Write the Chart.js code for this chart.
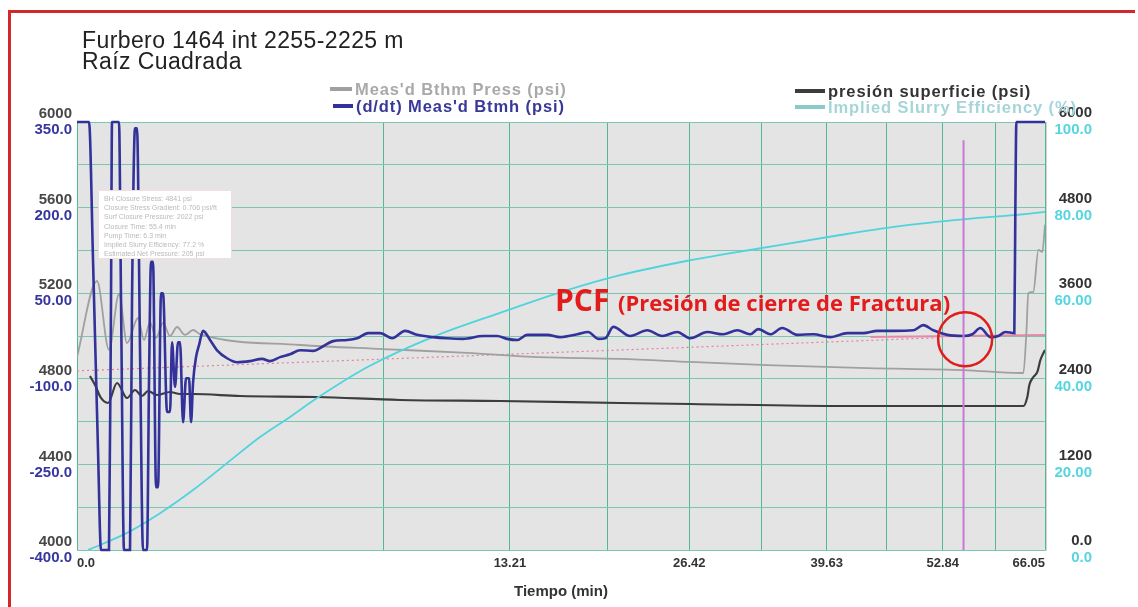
<!DOCTYPE html>
<html>
<head>
<meta charset="utf-8">
<script src="https://cdn.jsdelivr.net/npm/chart.js@4.4.1/dist/chart.umd.min.js"></script>
<style>
  html, body { margin: 0; padding: 0; background: #ffffff; }
  #wrap { position: relative; width: 1138px; height: 607px; overflow: hidden;
          font-family: "Liberation Sans", Arial, sans-serif; }
  #chart { position: absolute; left: 0; top: 0; }
  .frame { position: absolute; left: 8px; top: 10px; width: 1124px; height: 640px;
           border-top: 3px solid #d3282b; border-left: 3px solid #d3282b; }
  .title { position: absolute; left: 82px; top: 30px; font-size: 23px; line-height: 21px;
           letter-spacing: 0.4px; color: #222; }
  .leg { position: absolute; font-weight: bold; font-size: 16.5px; line-height: 16px;
         letter-spacing: 0.9px; white-space: nowrap; }
  .leg i { position: absolute; height: 4px; top: 6px; left: 0; }
  .info { position: absolute; left: 98px; top: 190px; width: 127px; height: 64px; background: #fff;
          border: 1px solid #f1dede; padding: 3px 0 0 5px; font-size: 7px; line-height: 9.2px;
          color: #bababa; white-space: nowrap; overflow: hidden; }
  .note { position: absolute; color: #e31b1b; font-family: "Open Sans", "Liberation Sans", sans-serif;
          font-weight: bold; white-space: nowrap; }
</style>
</head>
<body>
<div id="wrap">
  <canvas id="chart" width="1138" height="607"></canvas>
  <div class="frame"></div>
  <div class="title">Furbero 1464 int 2255-2225 m<br>Raíz Cuadrada</div>
  <div id="legend"></div>
  <div class="info" id="info"></div>
  <div class="note" style="left:555px; top:285px; font-size:30px; line-height:30px;">PCF</div>
  <div class="note" style="left:618px; top:291px; font-size:22px; line-height:22px;">(Presión de cierre de Fractura)</div>
</div>
<script>
// Series names
const pressName = "Meas'd Bthm Press (psi)";
const derivName = "(d/dt) Meas'd Btmh (psi)";
const surfName = "presión superficie (psi)";
const effName = "Implied Slurry Efficiency (%)";

// Bottomhole pressure (psi) vs shut-in time (min)
const pressTime = [0, 0.0282, 0.0722, 0.1244, 0.1764, 0.2625, 0.3167, 0.3759, 0.4402, 0.5217, 0.6101,
  0.7054, 0.8228, 0.9492, 1.067, 3.508, 6.605, 10.73, 14.67, 20.80, 26.51, 33.58, 44.02, 55.44,
  62.73, 63.13, 63.53, 63.80, 64.47, 65.15, 65.69, 66.05];
const pressValues = [4902, 5257, 4935, 5196, 4967, 5084, 4981, 5065, 4991, 5061, 5000,
  5042, 5005, 5028, 5009, 4958, 4939, 4921, 4902, 4893, 4879, 4864, 4850, 4841,
  4827, 4827, 5014, 5201, 5206, 5402, 5393, 5520];

// d/dt of bottomhole pressure (psi)
const derivTime = [0, 0.0102, 0.0181, 0.0311, 0.0406, 0.0722, 0.0815, 0.0864, 0.1244, 0.1366, 0.1558,
  0.1981, 0.2134, 0.2373, 0.2539, 0.280, 0.3073, 0.3456, 0.3657, 0.3863, 0.4074, 0.4402, 0.4628,
  0.4977, 0.5217, 0.5714, 0.6101, 0.6366, 0.6775, 0.7196, 0.7484, 0.7926, 0.8381, 0.8849, 0.9168,
  0.9492, 0.9989, 1.050, 1.120, 1.248, 1.383, 1.587, 1.806, 2.111, 2.414, 2.628, 2.907, 3.200,
  3.508, 3.929, 4.269, 4.623, 5.142, 5.530, 5.973, 6.476, 7.000, 7.589, 8.154, 8.940, 9.657,
  10.51, 11.63, 12.44, 13.04, 13.66, 14.28, 15.58, 16.46, 17.64, 18.42, 19.15, 19.67, 20.27,
  21.57, 22.92, 24.14, 25.39, 26.51, 28.00, 29.44, 30.73, 31.95, 32.71, 33.88, 35.06, 36.57,
  38.21, 40.00, 41.82, 43.58, 45.15, 46.97, 49.30, 50.49, 51.69, 53.39, 55.37, 56.50, 57.52,
  58.80, 59.84, 60.75, 61.93, 62.06, 62.20, 66.05];
const derivValues = [350, 350, 108, -225, -400, -400, 38, 350, 350, 38, -400,
  -400, 38, 339, 339, -50, -400, -400, -102, 105, 105, -290, -290,
  50, 50, -158, -158, -36, -114, -36, -36, -176, -99, -99, -176,
  -107, -62, -41, -16, -32, -50, -64, -71, -69, -65, -69, -62, -57,
  -50, -51, -43, -34, -32, -29, -20, -20, -29, -16, -23, -27, -29,
  -30, -25, -25, -30, -32, -23, -23, -27, -22, -18, -30, -29, -9,
  -25, -15, -25, -18, -29, -18, -22, -15, -22, -13, -22, -11, -23,
  -22, -27, -20, -20, -16, -16, -15, -6, -15, -23, -25, -22, -11,
  -27, -25, -18, -20, 187, 350, 350];

// Surface pressure (psi)
const surfTime = [0.0119, 0.0229, 0.0406, 0.0678, 0.1129, 0.1764, 0.2373, 0.298, 0.3556, 0.4515,
  0.6101, 0.7484, 0.9492, 1.874, 4.063, 7.359, 12.62, 20.80, 26.51, 41.82, 55.87, 63.13,
  63.66, 63.93, 64.47, 65.01, 65.42, 66.05];
const surfValues = [2439, 2313, 2131, 2061, 2341, 2131, 2243, 2159, 2229, 2173,
  2215, 2187, 2187, 2159, 2145, 2103, 2089, 2061, 2047, 2019, 2019, 2019,
  2145, 2313, 2425, 2496, 2664, 2804];

// Implied slurry efficiency (%)
const effTime = [0.0085, 0.0119, 0.1764, 0.486, 0.9492, 1.587, 2.362, 3.200, 4.063, 5.932, 8.940,
  12.62, 16.94, 20.80, 26.51, 32.91, 41.07, 48.60, 56.63, 62.33, 66.05];
const effValues = [0, 0.2, 4.0, 8.6, 14.0, 20.3, 26.4, 31.1, 35.5, 42.7, 49.8,
  55.4, 60.7, 64.2, 67.7, 70.5, 73.6, 75.9, 77.5, 78.3, 79.0];

// Closure analysis: trend line, closure pressure level, closure time
const trendTime = [0, 51.69];
const trendPress = [4837, 4991];
const closureLevelTime = [44.4, 66.05];
const closureLevelPress = [4995, 5005];
const closureTime = 55.4;
const closureMarkRange = [-400, 318];
const pcfTime = [55.6];
const pcfPress = [4985];

// Axis ticks and labels
const xTickValues = [0, 6.605, 13.21, 19.815, 26.42, 33.025, 39.63, 46.235, 52.84, 59.445, 66.05];
const xTickLabels = ['0.0', '', '13.21', '', '26.42', '', '39.63', '', '52.84', '', '66.05'];
const pressGrid = [4000, 4200, 4400, 4600, 4800, 5000, 5200, 5400, 5600, 5800, 6000];
const pressTickLabels = ['4000', '', '4400', '', '4800', '', '5200', '', '5600', '', '6000'];
const derivTicks = [-400, -250, -100, 50, 200, 350];
const derivTickLabels = ['-400.0', '-250.0', '-100.0', '50.00', '200.0', '350.0'];
const surfTicks = [0, 1200, 2400, 3600, 4800, 6000];
const surfTickLabels = ['0.0', '1200', '2400', '3600', '4800', '6000'];
const effTicks = [0, 20, 40, 60, 80, 100];
const effTickLabels = ['0.0', '20.00', '40.00', '60.00', '80.00', '100.0'];

const infoLines = [
  'BH Closure Stress: 4841 psi',
  'Closure Stress Gradient: 0.706 psi/ft',
  'Surf Closure Pressure: 2022 psi',
  'Closure Time: 55.4 min',
  'Pump Time: 6.3 min',
  'Implied Slurry Efficiency: 77.2 %',
  'Estimated Net Pressure: 205 psi'
];

const colors = {
  press: '#a0a0a0', deriv: '#32329a', surf: '#3d3d3d', eff: '#50d3dc',
  trend: '#e0809c', level: '#e58aa5', closure: '#c878d6', pcf: '#e01e1e',
  grid: '#7cc5b0', xGrid: '#52b995', plotBg: '#e4e4e4'
};

const pts = (xs, ys) => xs.map((x, i) => ({ x: x, y: ys[i] }));

// Square-root time axis
class SqrtScale extends Chart.LinearScale {
  getPixelForValue(value) {
    const r = Math.sqrt(Math.max(value - this.min, 0)) / Math.sqrt(this.max - this.min);
    return this.getPixelForDecimal(r);
  }
  getValueForPixel(pixel) {
    const d = this.getDecimalForPixel(pixel);
    return this.min + d * d * (this.max - this.min);
  }
}
SqrtScale.id = 'sqrt';
SqrtScale.defaults = Chart.LinearScale.defaults;
Chart.register(SqrtScale);

const plotBackground = {
  id: 'plotBackground',
  beforeDraw(chart) {
    const a = chart.chartArea, ctx = chart.ctx;
    ctx.save();
    ctx.fillStyle = colors.plotBg;
    ctx.fillRect(a.left, a.top, a.right - a.left + 2, a.bottom - a.top);
    ctx.strokeStyle = '#d2d2d2';
    ctx.lineWidth = 1;
    ctx.strokeRect(a.left + 0.5, a.top + 0.5, a.right - a.left + 1, a.bottom - a.top);
    ctx.restore();
  }
};

// Paired axes on each side share one label column
const sharedLabelColumn = {
  id: 'sharedLabelColumn',
  afterLayout(chart) {
    const pairs = [['yP', 'yD'], ['yS', 'yE']];
    pairs.forEach(([a, b]) => {
      const s = chart.scales[a], e = chart.scales[b];
      e.left = s.left; e.right = s.right; e.width = s.width;
    });
  }
};

const fam = '"Liberation Sans", Arial, sans-serif';
const yFont = { family: fam, size: 15, weight: 'bold' };
const xFont = { family: fam, size: 13, weight: 'bold' };
const noGrid = { display: false, drawTicks: false };

new Chart(document.getElementById('chart'), {
  type: 'line',
  data: {
    datasets: [
      { label: 'PCF', data: pts(pcfTime, pcfPress), yAxisID: 'yP', showLine: false,
        pointRadius: 27, pointBorderWidth: 2.5, pointBorderColor: colors.pcf,
        pointBackgroundColor: 'rgba(0,0,0,0)', clip: false, order: 0 },
      { label: 'Closure time', data: pts([closureTime, closureTime], closureMarkRange), yAxisID: 'yD',
        borderColor: colors.closure, borderWidth: 2, pointRadius: 0, order: 1 },
      { label: derivName, data: pts(derivTime, derivValues), yAxisID: 'yD',
        borderColor: colors.deriv, borderWidth: 2.6, pointRadius: 0, cubicInterpolationMode: 'monotone',
        clip: 3, order: 2 },
      { label: effName, data: pts(effTime, effValues), yAxisID: 'yE',
        borderColor: colors.eff, borderWidth: 1.8, pointRadius: 0, cubicInterpolationMode: 'monotone', order: 3 },
      { label: surfName, data: pts(surfTime, surfValues), yAxisID: 'yS',
        borderColor: colors.surf, borderWidth: 2.2, pointRadius: 0, cubicInterpolationMode: 'monotone', order: 4 },
      { label: pressName, data: pts(pressTime, pressValues), yAxisID: 'yP',
        borderColor: colors.press, borderWidth: 1.8, pointRadius: 0, cubicInterpolationMode: 'monotone', order: 5 },
      { label: 'Closure trend', data: pts(trendTime, trendPress), yAxisID: 'yP',
        borderColor: colors.trend, borderWidth: 1.2, borderDash: [2, 3], pointRadius: 0, order: 6 },
      { label: 'Closure level', data: pts(closureLevelTime, closureLevelPress), yAxisID: 'yP',
        borderColor: colors.level, borderWidth: 2, pointRadius: 0, order: 6 }
    ]
  },
  options: {
    responsive: false,
    animation: false,
    events: [],
    layout: { padding: { left: 0, right: 46, top: 122, bottom: 0 } },
    plugins: { legend: { display: false }, tooltip: { enabled: false }, title: { display: false } },
    scales: {
      x: {
        type: 'sqrt', position: 'bottom', min: 0, max: 66.05,
        afterBuildTicks: s => { s.ticks = xTickValues.map(v => ({ value: v })); },
        afterFit: s => { s.height = 57; },
        ticks: { autoSkip: false, maxRotation: 0, align: 'inner', padding: 6, color: '#333',
                 font: xFont, callback: (v, i) => xTickLabels[i] },
        grid: { color: colors.xGrid, drawTicks: false, lineWidth: 1 },
        border: { display: false },
        title: { display: true, text: 'Tiempo (min)', color: '#333',
                 font: { family: fam, size: 15, weight: 'bold' }, padding: { top: 0, bottom: 6 } }
      },
      yP: {
        type: 'linear', position: 'left', weight: 1, min: 4000, max: 6000,
        afterBuildTicks: s => { s.ticks = pressGrid.map(v => ({ value: v })); },
        afterFit: s => { s.width = 77; },
        ticks: { autoSkip: false, padding: 5, labelOffset: -8, color: '#474747', font: yFont,
                 callback: (v, i) => pressTickLabels[i] },
        grid: { color: colors.grid, drawTicks: false, lineWidth: 1 },
        border: { display: false }
      },
      yD: {
        type: 'linear', position: 'left', weight: 0, min: -400, max: 350,
        afterBuildTicks: s => { s.ticks = derivTicks.map(v => ({ value: v })); },
        afterFit: s => { s.width = 0; },
        ticks: { autoSkip: false, padding: 5, labelOffset: 8, color: '#3636a0', font: yFont,
                 callback: (v, i) => derivTickLabels[i] },
        grid: noGrid, border: { display: false }
      },
      yS: {
        type: 'linear', position: 'right', weight: 1, min: 0, max: 6000,
        afterBuildTicks: s => { s.ticks = surfTicks.map(v => ({ value: v })); },
        afterFit: s => { s.width = 47; },
        ticks: { autoSkip: false, padding: 10, crossAlign: 'far', labelOffset: -9, color: '#333', font: yFont,
                 callback: (v, i) => surfTickLabels[i] },
        grid: noGrid, border: { display: false }
      },
      yE: {
        type: 'linear', position: 'right', weight: 0, min: 0, max: 100,
        afterBuildTicks: s => { s.ticks = effTicks.map(v => ({ value: v })); },
        afterFit: s => { s.width = 0; },
        ticks: { autoSkip: false, padding: 10, crossAlign: 'far', labelOffset: 8, color: '#55d6df', font: yFont,
                 callback: (v, i) => effTickLabels[i] },
        grid: noGrid, border: { display: false }
      }
    }
  },
  plugins: [plotBackground, sharedLabelColumn]
});

// Legend built from the series names and colours
const legendItems = [
  { text: pressName, color: '#a9a9a9', mark: colors.press, left: 330, top: 81, markW: 22 },
  { text: derivName, color: '#38389a', mark: colors.deriv, left: 333, top: 98, markW: 20 },
  { text: surfName, color: '#333333', mark: colors.surf, left: 795, top: 83, markW: 30 },
  { text: effName, color: '#a5d5d9', mark: '#8ccaca', left: 795, top: 99, markW: 30 }
];
const legendEl = document.getElementById('legend');
legendItems.forEach(it => {
  const d = document.createElement('div');
  d.className = 'leg';
  d.style.left = it.left + 'px';
  d.style.top = it.top + 'px';
  d.style.paddingLeft = (it.markW + 3) + 'px';
  d.style.color = it.color;
  const m = document.createElement('i');
  m.style.width = it.markW + 'px';
  m.style.background = it.mark;
  d.appendChild(m);
  d.appendChild(document.createTextNode(it.text));
  legendEl.appendChild(d);
});

document.getElementById('info').innerHTML = infoLines.join('<br>');
</script>
</body>
</html>
